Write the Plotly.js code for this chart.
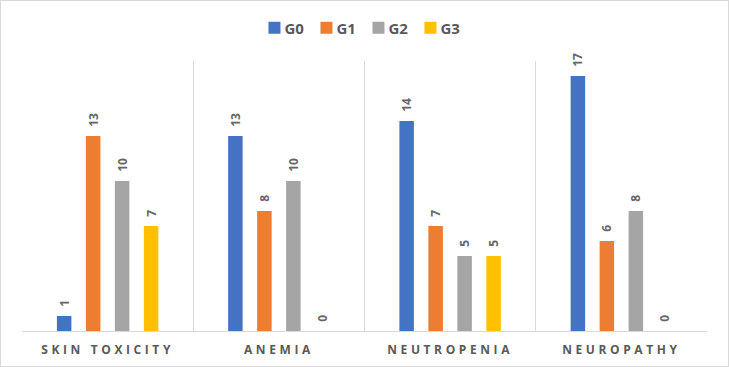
<!DOCTYPE html>
<html>
<head>
<meta charset="utf-8">
<script src="https://cdn.plot.ly/plotly-3.0.1.min.js"></script>
<style>
  html, body { margin: 0; padding: 0; background: #fff; }
  #frame { width: 727px; height: 365px; border: 1px solid #d9d9d9; }
  #chart { width: 727px; height: 365px; }
  #chart .xtick text { letter-spacing: 3.6px; }
  /* tighter legend: pull the labels toward their swatches, no clipping */
  #chart .legend .legendtext { transform: translateX(-10px); }
  #chart .legend .scrollbox, #chart .legend .traces { clip-path: none !important; }
</style>
</head>
<body>
<div id="frame"><div id="chart"></div></div>
<script>
// Adverse events by grade, counts of patients
const categories = ["SKIN TOXICITY", "ANEMIA", "NEUTROPENIA", "NEUROPATHY"];
const seriesNames = ["G0", "G1", "G2", "G3"];
const g0 = [1, 13, 14, 17];
const g1 = [13, 8, 7, 6];
const g2 = [10, 10, 5, 8];
const g3 = [7, 0, 5, 0];
const colors = ["#4472C4", "#ED7D31", "#A5A5A5", "#FFC000"];

const fam = "Open Sans, DejaVu Sans, sans-serif";
const labelFont = { family: fam, size: 12, color: "#666666", weight: "bold" };

const traces = [g0, g1, g2, g3].map((vals, i) => ({
  type: "bar",
  name: seriesNames[i],
  x: categories,
  y: vals,
  marker: { color: colors[i] },
  text: vals.map(v => "\u00a0\u00a0" + v),
  textposition: "outside",
  textangle: -90,
  constraintext: "none",
  cliponaxis: false,
  textfont: labelFont,
  hoverinfo: "skip"
}));

const layout = {
  width: 727,
  height: 365,
  margin: { l: 21, r: 21, t: 60, b: 35, autoexpand: false },
  paper_bgcolor: "#ffffff",
  plot_bgcolor: "#ffffff",
  barmode: "group",
  bargap: 0.323,
  bargroupgap: 0.5,
  showlegend: true,
  legend: {
    orientation: "h",
    x: 0.4917,
    xanchor: "center",
    xref: "container",
    y: 0.926,
    yref: "container",
    yanchor: "middle",
    font: { family: fam, size: 15, color: "#595959", weight: "bold" },
    itemwidth: 30,
    entrywidth: 7,
    traceorder: "normal"
  },
  xaxis: {
    type: "category",
    tickson: "boundaries",
    showgrid: true,
    gridcolor: "#d9d9d9",
    gridwidth: 1,
    showline: true,
    linecolor: "#d9d9d9",
    linewidth: 1,
    ticks: "",
    ticklabelstandoff: 8,
    tickfont: { family: fam, size: 12, color: "#595959", weight: "bold" },
    fixedrange: true
  },
  yaxis: {
    range: [0, 18],
    showgrid: false,
    zeroline: false,
    showticklabels: false,
    showline: false,
    ticks: "",
    fixedrange: true
  }
};

Plotly.newPlot("chart", traces, layout, { displayModeBar: false, staticPlot: true });
</script>
</body>
</html>
